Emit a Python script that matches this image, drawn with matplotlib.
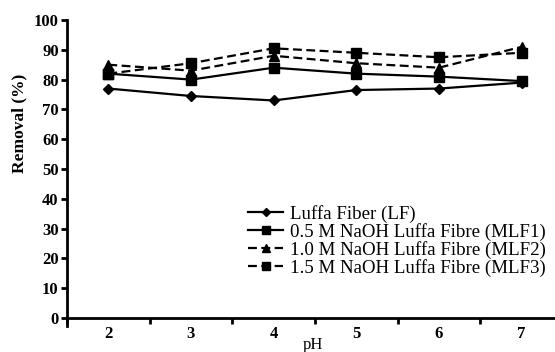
import numpy as np
import matplotlib.pyplot as plt

# pH categories and removal (%) per adsorbent
ph = [2, 3, 4, 5, 6, 7]
lf = [77, 74.5, 73, 76.5, 77, 79]
mlf1 = [82, 80, 84, 82, 81, 79.5]
mlf2 = [85, 83, 88, 85.5, 84, 91]
mlf3 = [82, 85.5, 90.5, 89, 87.5, 89]

plt.rcParams['font.family'] = ['Liberation Serif', 'DejaVu Serif']

fig = plt.figure(figsize=(5.55, 3.52), dpi=100)
# y=0 at 318 px, y=100 at 20 px from top -> 2.98 px per unit
ax = fig.add_axes([67 / 555, 1 - 325.5 / 352, 496 / 555, 305.5 / 352])

dash = (0, (4, 2))
ax.plot(ph, lf, color='black', lw=1.6, marker='D', ms=5.5, label='Luffa Fiber (LF)')
ax.plot(ph, mlf1, color='black', lw=1.6, marker='s', ms=7, label='0.5 M NaOH Luffa Fibre (MLF1)')
ax.plot(ph, mlf2, color='black', lw=1.6, ls=dash, marker='^', ms=7, label='1.0 M NaOH Luffa Fibre (MLF2)')
ax.plot(ph, mlf3, color='black', lw=1.6, ls=dash, marker='s', ms=7, label='1.5 M NaOH Luffa Fibre (MLF3)')

ax.set_xlim(1.5, 7.5)
ax.set_ylim(-2.5, 100)
ax.spines['right'].set_visible(False)
ax.spines['top'].set_visible(False)
ax.spines['bottom'].set_position(('data', 0))
ax.spines['left'].set_bounds(-2.5, 100)
for s in ('left', 'bottom'):
    ax.spines[s].set_linewidth(2)

ax.set_yticks(np.arange(0, 101, 10))
ax.set_xticks(np.arange(1.5, 7.5, 1))
ax.set_xticklabels([])
ax.tick_params(axis='both', direction='out', width=2, length=4, labelsize=12, pad=2)
for lab in ax.get_yticklabels():
    lab.set_fontweight('bold')
for x in ph:
    ax.text(x, -2.8, str(x), ha='center', va='top', fontsize=12, fontweight='bold',
            transform=ax.transData, clip_on=False)

ax.text(4.47, -8.9, 'pH', ha='center', va='center', fontsize=12, clip_on=False)
ax.set_ylabel('Removal (%)', fontsize=12.5, fontweight='bold')
ax.yaxis.set_label_coords(-0.08, 0.66)

ax.legend(loc='lower left', bbox_to_anchor=(0.345, 0.128), frameon=False, fontsize=13.6,
          handlelength=1.9, handletextpad=0.35, labelspacing=0.0, borderpad=0,
          markerscale=0.8)

fig.savefig('out.png', dpi=100)
